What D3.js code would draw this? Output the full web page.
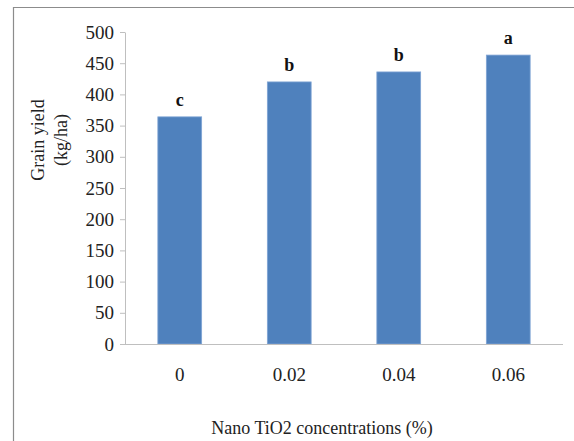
<!DOCTYPE html>
<html>
<head>
<meta charset="utf-8">
<script src="https://cdn.jsdelivr.net/npm/d3@7"></script>
<style>
  body { margin: 0; background: #fff; }
  text { font-family: "Liberation Serif", "Times New Roman", serif; }
</style>
</head>
<body>
<svg id="chart" width="574" height="441"></svg>
<script>
// Data
const concentrations = ['0', '0.02', '0.04', '0.06'];
const grainYield = [364, 420, 436, 463];
const groupLetters = ['c', 'b', 'b', 'a'];
const yTicks = [0, 50, 100, 150, 200, 250, 300, 350, 400, 450, 500];

const svg = d3.select('#chart');

// outer frame (top + left edges visible)
svg.append('path')
  .attr('d', 'M13.5,441 L13.5,7.5 L574,7.5')
  .attr('fill', 'none')
  .attr('stroke', '#8c8c8c')
  .attr('stroke-width', 1.2);

const plot = { left: 125, right: 563, top: 32, bottom: 344 };

const x = d3.scaleBand()
  .domain(concentrations)
  .range([plot.left, plot.right])
  .paddingInner(0.6)
  .paddingOuter(0.3);

const y = d3.scaleLinear()
  .domain([0, 500])
  .range([plot.bottom, plot.top]);

// y axis
const yAxis = svg.append('g')
  .attr('transform', `translate(${plot.left},0)`)
  .call(d3.axisLeft(y).tickValues(yTicks).tickSize(5).tickPadding(6).tickSizeOuter(0));
yAxis.select('.domain').attr('stroke', '#bfbfbf');
yAxis.selectAll('.tick line').attr('stroke', '#bfbfbf');
yAxis.selectAll('.tick text')
  .attr('font-size', 19)
  .attr('fill', '#222')
  .style('font-family', '"Liberation Serif", serif');

// bars
svg.append('g')
  .selectAll('rect')
  .data(grainYield)
  .enter().append('rect')
  .attr('x', (d, i) => x(concentrations[i]))
  .attr('y', d => y(d))
  .attr('width', x.bandwidth())
  .attr('height', d => y(0) - y(d))
  .attr('fill', '#4f81bd')
  .attr('stroke', '#7fa4d4')
  .attr('stroke-width', 0.8);

// significance letters
svg.append('g')
  .selectAll('text')
  .data(grainYield)
  .enter().append('text')
  .attr('x', (d, i) => x(concentrations[i]) + x.bandwidth() / 2)
  .attr('y', d => y(d) - 11)
  .attr('text-anchor', 'middle')
  .attr('font-size', 18)
  .attr('font-weight', 'bold')
  .attr('fill', '#111')
  .text((d, i) => groupLetters[i]);

// x axis
const xAxis = svg.append('g')
  .attr('transform', `translate(0,${plot.bottom})`)
  .call(d3.axisBottom(x).tickSize(0).tickPadding(24).tickSizeOuter(0));
xAxis.select('.domain').attr('stroke', '#bfbfbf').attr('d', `M${plot.left - 5},0.5H${plot.right}`);
xAxis.selectAll('.tick text')
  .attr('font-size', 19)
  .attr('fill', '#222')
  .style('font-family', '"Liberation Serif", serif');

// axis titles
svg.append('text')
  .attr('x', 322)
  .attr('y', 434)
  .attr('text-anchor', 'middle')
  .attr('font-size', 18)
  .attr('fill', '#222')
  .text('Nano TiO2 concentrations (%)');

const yTitle = svg.append('text')
  .attr('transform', 'translate(38,140) rotate(-90)')
  .attr('text-anchor', 'middle')
  .attr('font-size', 18)
  .attr('fill', '#222');
yTitle.append('tspan').attr('x', 0).attr('dy', '0.35em').text('Grain yield');
yTitle.append('tspan').attr('x', 0).attr('dy', '1.25em').text('(kg/ha)');
</script>
</body>
</html>
